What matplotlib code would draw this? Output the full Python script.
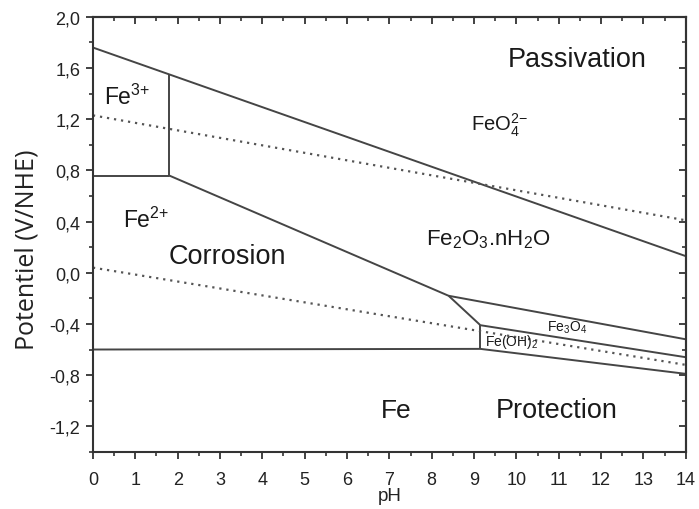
import matplotlib
matplotlib.use("Agg")
import matplotlib.pyplot as plt
from matplotlib.ticker import MultipleLocator, FuncFormatter

plt.rcParams["font.family"] = ["Liberation Sans", "DejaVu Sans"]
plt.rcParams["mathtext.fontset"] = "custom"
plt.rcParams["mathtext.rm"] = "Liberation Sans"
plt.rcParams["mathtext.it"] = "Liberation Sans"
plt.rcParams["mathtext.default"] = "rm"

# boundary lines (pH, E in V/NHE)
fe3_top_ph = [0, 14]
fe3_top_e = [1.76, 0.13]
fe3_fe2_ph = [0, 1.8, 1.8]
fe3_fe2_e = [0.76, 0.76, 1.55]
fe2_oxide_ph = [1.8, 8.4, 9.15]
fe2_oxide_e = [0.76, -0.18, -0.41]
magnetite_top_ph = [8.4, 14]
magnetite_top_e = [-0.18, -0.52]
magnetite_bot_ph = [9.15, 14]
magnetite_bot_e = [-0.41, -0.66]
hydroxide_side_ph = [9.15, 9.15]
hydroxide_side_e = [-0.41, -0.595]
fe_ph = [0, 9.15, 14]
fe_e = [-0.60, -0.595, -0.79]

# water stability lines (dotted)
o2_ph = [0, 14]
o2_e = [1.23, 0.41]
h2_ph = [0, 14]
h2_e = [0.04, -0.72]

# region labels
labels = ["Passivation", "FeO$_4^{2{-}}$", "Fe$^{3{+}}$", "Fe$^{2{+}}$", "Corrosion",
          "Fe$_2$O$_3$.nH$_2$O", "Fe$_3$O$_4$", "Fe(OH)$_2$", "Fe", "Protection"]
label_ph = [11.43, 9.6, 0.80, 1.25, 3.18, 9.33, 11.19, 9.89, 7.15, 10.95]
label_e = [1.67, 1.16, 1.38, 0.42, 0.13, 0.27, -0.42, -0.53, -1.07, -1.07]
label_size = [19.5, 14.5, 16.5, 16.5, 19.5, 16, 10, 10, 19, 19.5]

fig = plt.figure(figsize=(6.99, 5.10), dpi=100)
ax = fig.add_axes([0.133, 0.112, 0.848, 0.853])

line_col = "#454545"
for xs, ys in [(fe3_top_ph, fe3_top_e), (fe3_fe2_ph, fe3_fe2_e),
               (fe2_oxide_ph, fe2_oxide_e), (magnetite_top_ph, magnetite_top_e),
               (magnetite_bot_ph, magnetite_bot_e), (hydroxide_side_ph, hydroxide_side_e),
               (fe_ph, fe_e)]:
    ax.plot(xs, ys, color=line_col, lw=1.4, solid_capstyle="butt")

for xs, ys in [(o2_ph, o2_e), (h2_ph, h2_e)]:
    ax.plot(xs, ys, color="#555555", lw=1.6, linestyle=(0, (1, 2.2)))

for t, x, y, s in zip(labels, label_ph, label_e, label_size):
    ax.text(x, y, t, fontsize=s, ha="center", va="center", color="#1a1a1a")

ax.set_xlim(0, 14)
ax.set_ylim(-1.4, 2.0)
ax.xaxis.set_major_locator(MultipleLocator(1))
ax.xaxis.set_minor_locator(MultipleLocator(0.5))
ax.yaxis.set_major_locator(MultipleLocator(0.4))
ax.yaxis.set_minor_locator(MultipleLocator(0.2))
ax.yaxis.set_major_formatter(FuncFormatter(lambda v, p: f"{v:.1f}".replace(".", ",").replace("-0,0", "0,0")))
ax.tick_params(which="major", direction="out", length=5, width=1.3, labelsize=13, colors="#333333")
ax.tick_params(which="minor", direction="out", length=3, width=1.2, colors="#333333")
ax.tick_params(axis="x", which="major", pad=9)
ax.tick_params(axis="y", which="major", pad=4)
ax.tick_params(labelcolor="#222222")

for sp in ax.spines.values():
    sp.set_linewidth(1.5)
    sp.set_color("#333333")

top = ax.secondary_xaxis("top")
top.xaxis.set_major_locator(MultipleLocator(1))
top.xaxis.set_minor_locator(MultipleLocator(0.5))
top.tick_params(which="major", direction="in", length=5, width=1.3, labeltop=False, colors="#333333")
top.tick_params(which="minor", direction="in", length=3, width=1.2, colors="#333333")
right = ax.secondary_yaxis("right")
right.yaxis.set_major_locator(MultipleLocator(0.4))
right.yaxis.set_minor_locator(MultipleLocator(0.2))
right.tick_params(which="major", direction="in", length=5, width=1.3, labelright=False, colors="#333333")
right.tick_params(which="minor", direction="in", length=3, width=1.2, colors="#333333")
for a in (top, right):
    for sp in a.spines.values():
        sp.set_linewidth(1.5)
        sp.set_color("#333333")

ax.set_xlabel("pH", fontsize=13.5, color="#222222")
ax.xaxis.label.set_va("center")
ax.xaxis.set_label_coords(0.5, -0.101)
ax.set_ylabel("Potentiel (V/NHE)", fontsize=18, color="#222222", family=["Open Sans", "DejaVu Sans"])
ax.yaxis.label.set_va("center")
ax.yaxis.set_label_coords(-0.111, 0.467)

fig.savefig("out.png", dpi=100)
